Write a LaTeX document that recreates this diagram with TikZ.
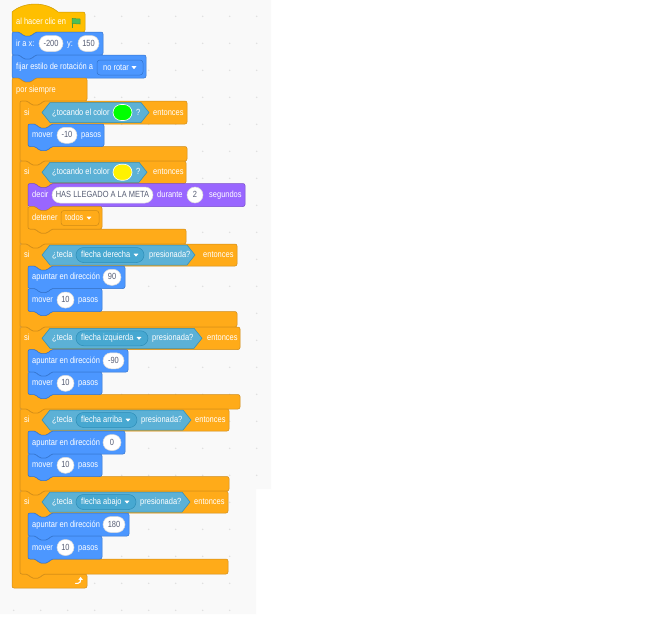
\documentclass[tikz,border=0pt]{standalone}
\usepackage{fontspec}
\setmainfont{Liberation Sans}[FakeStretch=0.84]
\usetikzlibrary{shapes.misc,shapes.geometric}
\definecolor{evt}{HTML}{FFBF00}\definecolor{evtb}{HTML}{CC9900}
\definecolor{mot}{HTML}{4C97FF}\definecolor{motb}{HTML}{3373CC}
\definecolor{ctl}{HTML}{FFAB19}\definecolor{ctlb}{HTML}{CF8B17}
\definecolor{sen}{HTML}{5CB1D6}\definecolor{senb}{HTML}{2E8EB8}\definecolor{sentwo}{HTML}{47A8D1}
\definecolor{lks}{HTML}{9966FF}\definecolor{lksb}{HTML}{774DCB}
\definecolor{txtg}{HTML}{575E75}
\definecolor{bgc}{HTML}{F9F9F9}
\definecolor{dotc}{HTML}{DEDEDE}
\definecolor{flagc}{HTML}{4CBF56}\definecolor{flagb}{HTML}{45993D}
\newcommand{\fs}{\fontsize{8.9}{10}\selectfont}
% stack block: x, top, right, bottom, style
\newcommand{\sblk}[5]{%
\path[#5,rounded corners=2pt] (#1,#2) -- ({#1+8},#2) -- ({#1+11},{#2+4}) -- ({#1+20},{#2+4}) -- ({#1+23},#2) -- (#3,#2) -- (#3,#4) -- ({#1+23},#4) -- ({#1+20},{#4+4}) -- ({#1+11},{#4+4}) -- ({#1+8},#4) -- (#1,#4) -- cycle;}
% c block: x, top, right, header bottom, arm top, arm bottom, style
\newcommand{\cblk}[7]{%
\path[#7,rounded corners=2pt] (#1,#2) -- ({#1+8},#2) -- ({#1+11},{#2+4}) -- ({#1+20},{#2+4}) -- ({#1+23},#2) -- (#3,#2) -- (#3,#4) -- ({#1+31},#4) -- ({#1+28},{#4+4}) -- ({#1+19},{#4+4}) -- ({#1+16},#4) -- ({#1+8},#4) -- ({#1+8},#5) -- ({#1+16},#5) -- ({#1+19},{#5+4}) -- ({#1+28},{#5+4}) -- ({#1+31},#5) -- (#3,#5) -- (#3,#6) -- ({#1+23},#6) -- ({#1+20},{#6+4}) -- ({#1+11},{#6+4}) -- ({#1+8},#6) -- (#1,#6) -- cycle;}
% forever block (no bottom tab)
\newcommand{\cfor}[7]{%
\path[#7,rounded corners=2pt] (#1,#2) -- ({#1+8},#2) -- ({#1+11},{#2+4}) -- ({#1+20},{#2+4}) -- ({#1+23},#2) -- (#3,#2) -- (#3,#4) -- ({#1+31},#4) -- ({#1+28},{#4+4}) -- ({#1+19},{#4+4}) -- ({#1+16},#4) -- ({#1+8},#4) -- ({#1+8},#5) -- ({#1+16},#5) -- ({#1+19},{#5+4}) -- ({#1+28},{#5+4}) -- ({#1+31},#5) -- (#3,#5) -- (#3,#6) -- (#1,#6) -- cycle;}
% boolean hexagon: left, right, centre y
\newcommand{\hexa}[3]{%
\path[senblk] (#1,#3) -- ({#1+8},{#3-10}) -- ({#2-8},{#3-10}) -- (#2,#3) -- ({#2-8},{#3+10}) -- ({#1+8},{#3+10}) -- cycle;}
% dropdown pill in sensing: left, right, centre y
\newcommand{\pill}[3]{%
\path[fill=sentwo,draw=senb,line width=0.5pt,rounded corners=7.5pt] (#1,{#3-7.5}) rectangle (#2,{#3+7.5});}
% dropdown arrow
\newcommand{\ddarr}[2]{%
\fill[white,rounded corners=0.4pt] ({#1-2.6},{#2-1.3}) -- ({#1+2.6},{#2-1.3}) -- (#1,{#2+1.6}) -- cycle;}
\tikzset{
 lbl/.style={anchor=west,inner sep=0pt,text=white,font=\fs,text height=6.4pt,text depth=1pt},
 wov/.style={rounded rectangle,fill=white,draw=black!15,line width=0.5pt,minimum height=16pt,minimum width=#1,inner xsep=0pt,inner ysep=0pt,text=txtg,font=\fs,text height=6.4pt,text depth=1pt},
 swatch/.style={rounded rectangle,draw=white,line width=0.6pt,minimum height=16pt,minimum width=19pt,inner sep=0pt},
 motblk/.style={fill=mot,draw=motb,line width=0.5pt},
 ctlblk/.style={fill=ctl,draw=ctlb,line width=0.5pt},
 lksblk/.style={fill=lks,draw=lksb,line width=0.5pt},
 senblk/.style={fill=sen,draw=senb,line width=0.5pt},
 hatblk/.style={fill=evt,draw=evtb,line width=0.5pt},
}
\begin{document}
\begin{tikzpicture}[x=1pt,y=-1pt]
\useasboundingbox (0,0) rectangle (667,624);
\fill[white] (0,0) rectangle (667,624);
\fill[bgc] (0,0) -- (271,0) -- (271,489) -- (256,489) -- (256,614) -- (0,614) -- cycle;
\foreach \i in {0,...,9}{\foreach \j in {0,...,17}{\fill[dotc] ({13.7+27*\i},{16.3+27*\j}) circle[radius=0.8pt];}}
\foreach \i in {0,...,8}{\foreach \j in {18,...,22}{\fill[dotc] ({13.7+27*\i},{16.3+27*\j}) circle[radius=0.8pt];}}

% hat block
\path[hatblk] (12,32) -- (12,12) .. controls (24,1.4) and (46,1.4) .. (58,12) [rounded corners=2pt] -- (85,12) -- (85,32) -- (35,32) -- (32,36) -- (23,36) -- (20,32) -- (12,32) -- cycle;
\node[lbl] (hatT) at (16,22) {al hacer clic en};
\draw[flagb,line width=0.8pt] (72,18) -- (72,28);
\path[fill=flagc,draw=flagb,line width=0.5pt] (72,18.5) .. controls (74.5,17.3) and (77,20.2) .. (80,19) -- (80,24) .. controls (77,25.2) and (74.5,22.3) .. (72,23.5) -- cycle;

% ir a
\sblk{12}{32}{103}{55}{motblk}
\node[lbl] (iraT) at (16,43.5) {ir a x:};
\node[wov=24pt] (irx) at (51,43.5) {-200};
\node[lbl] (iryT) at (67,43.5) {y:};
\node[wov=21pt] (iry) at (88.5,43.5) {150};

% fijar estilo
\sblk{12}{55}{146}{78}{motblk}
\node[lbl] (fijT) at (16,66.5) {fijar estilo de rotación a};
\path[fill=mot,draw=motb,line width=0.5pt,rounded corners=3pt] (97,60) rectangle (143,75);
\node[lbl] (fijD) at (103,67.5) {no rotar};
\ddarr{134}{67.5}

% forever
\cfor{12}{78}{87}{101}{574}{588}{ctlblk}
\node[lbl] (forT) at (16,89.5) {por siempre};
\draw[white,line width=1.1pt,line cap=round] (75.5,583.3) -- (78,583.3) .. controls (80,583.3) and (80.6,581.5) .. (80.6,579.6);
\fill[white] (78.4,579.8) -- (82.8,579.8) -- (80.6,576.8) -- cycle;

% si 1
\cblk{20}{101}{187}{124}{146.5}{161}{ctlblk}
\node[lbl] (s1T) at (24,112.5) {si};
\hexa{42}{149}{112.5}
\node[lbl] (s1a) at (52,112.5) {¿tocando el color};
\node[swatch,fill=green] (s1c) at (122.5,112.5) {};
\node[lbl] (s1q) at (136,112.5) {?};
\node[lbl] (s1e) at (153,112.5) {entonces};
\sblk{28}{124}{104}{146.5}{motblk}
\node[lbl] (m1T) at (32,135.25) {mover};
\node[wov=20pt] (m1v) at (67,135.25) {-10};
\node[lbl] (m1p) at (81,135.25) {pasos};

% si 2
\cblk{20}{161}{186}{183.5}{229}{244}{ctlblk}
\node[lbl] (s2T) at (24,172.25) {si};
\hexa{42}{147}{172.25}
\node[lbl] (s2a) at (52,172.25) {¿tocando el color};
\node[swatch,fill=yellow] (s2c) at (122.5,172.25) {};
\node[lbl] (s2q) at (136,172.25) {?};
\node[lbl] (s2e) at (153,172.25) {entonces};
\sblk{28}{183.5}{245}{206.5}{lksblk}
\node[lbl] (dT) at (32,195) {decir};
\node[wov=101pt] (dv) at (102.5,195) {HAS LLEGADO A LA META};
\node[lbl] (dd) at (157,195) {durante};
\node[wov=16pt] (dn) at (195,195) {2};
\node[lbl] (ds) at (209,195) {segundos};
\sblk{28}{206.5}{102}{229}{ctlblk}
\node[lbl] (stT) at (32,217.75) {detener};
\path[fill=ctl,draw=ctlb,line width=0.5pt,rounded corners=3pt] (61,210.5) rectangle (99,225.5);
\node[lbl] (stD) at (65,218) {todos};
\ddarr{89}{218}

% si 3
\cblk{20}{244}{237}{266}{311.5}{327}{ctlblk}
\node[lbl] (s3T) at (24,255) {si};
\hexa{42}{195}{255}
\node[lbl] (s3a) at (52,255) {¿tecla};
\pill{76}{144}{255}
\node[lbl] (s3k) at (81,255) {flecha derecha};
\ddarr{136}{255}
\node[lbl] (s3p) at (149,255) {presionada?};
\node[lbl] (s3e) at (203,255) {entonces};
\sblk{28}{266}{125}{288.5}{motblk}
\node[lbl] (a3T) at (32,277.25) {apuntar en dirección};
\node[wov=18pt] (a3v) at (112,277.25) {90};
\sblk{28}{288.5}{102}{311.5}{motblk}
\node[lbl] (m3T) at (32,300) {mover};
\node[wov=17pt] (m3v) at (65.5,300) {10};
\node[lbl] (m3p) at (78,300) {pasos};

% si 4
\cblk{20}{327}{240}{349.5}{394.5}{409}{ctlblk}
\node[lbl] (s4T) at (24,338.25) {si};
\hexa{42}{202}{338.25}
\node[lbl] (s4a) at (52,338.25) {¿tecla};
\pill{76}{148}{338.25}
\node[lbl] (s4k) at (81,338.25) {flecha izquierda};
\ddarr{139}{338.25}
\node[lbl] (s4p) at (152,338.25) {presionada?};
\node[lbl] (s4e) at (207,338.25) {entonces};
\sblk{28}{349.5}{128}{372}{motblk}
\node[lbl] (a4T) at (32,360.75) {apuntar en dirección};
\node[wov=21pt] (a4v) at (113.5,360.75) {-90};
\sblk{28}{372}{102}{394.5}{motblk}
\node[lbl] (m4T) at (32,383.25) {mover};
\node[wov=17pt] (m4v) at (65.5,383.25) {10};
\node[lbl] (m4p) at (78,383.25) {pasos};

% si 5
\cblk{20}{409}{229}{431}{476.5}{491}{ctlblk}
\node[lbl] (s5T) at (24,420) {si};
\hexa{42}{191}{420}
\node[lbl] (s5a) at (52,420) {¿tecla};
\pill{76}{137}{420}
\node[lbl] (s5k) at (81,420) {flecha arriba};
\ddarr{128}{420}
\node[lbl] (s5p) at (141,420) {presionada?};
\node[lbl] (s5e) at (195,420) {entonces};
\sblk{28}{431}{125}{454}{motblk}
\node[lbl] (a5T) at (32,442.5) {apuntar en dirección};
\node[wov=18pt] (a5v) at (112,442.5) {0};
\sblk{28}{454}{102}{476.5}{motblk}
\node[lbl] (m5T) at (32,465.25) {mover};
\node[wov=17pt] (m5v) at (65.5,465.25) {10};
\node[lbl] (m5p) at (78,465.25) {pasos};

% si 6
\cblk{20}{491}{228}{513}{559}{574}{ctlblk}
\node[lbl] (s6T) at (24,502) {si};
\hexa{42}{190}{502}
\node[lbl] (s6a) at (52,502) {¿tecla};
\pill{76}{136}{502}
\node[lbl] (s6k) at (81,502) {flecha abajo};
\ddarr{127}{502}
\node[lbl] (s6p) at (140,502) {presionada?};
\node[lbl] (s6e) at (194,502) {entonces};
\sblk{28}{513}{129}{536}{motblk}
\node[lbl] (a6T) at (32,524.5) {apuntar en dirección};
\node[wov=22pt] (a6v) at (114,524.5) {180};
\sblk{28}{536}{102}{559}{motblk}
\node[lbl] (m6T) at (32,547.5) {mover};
\node[wov=17pt] (m6v) at (65.5,547.5) {10};
\node[lbl] (m6p) at (78,547.5) {pasos};
\end{tikzpicture}
\end{document}
